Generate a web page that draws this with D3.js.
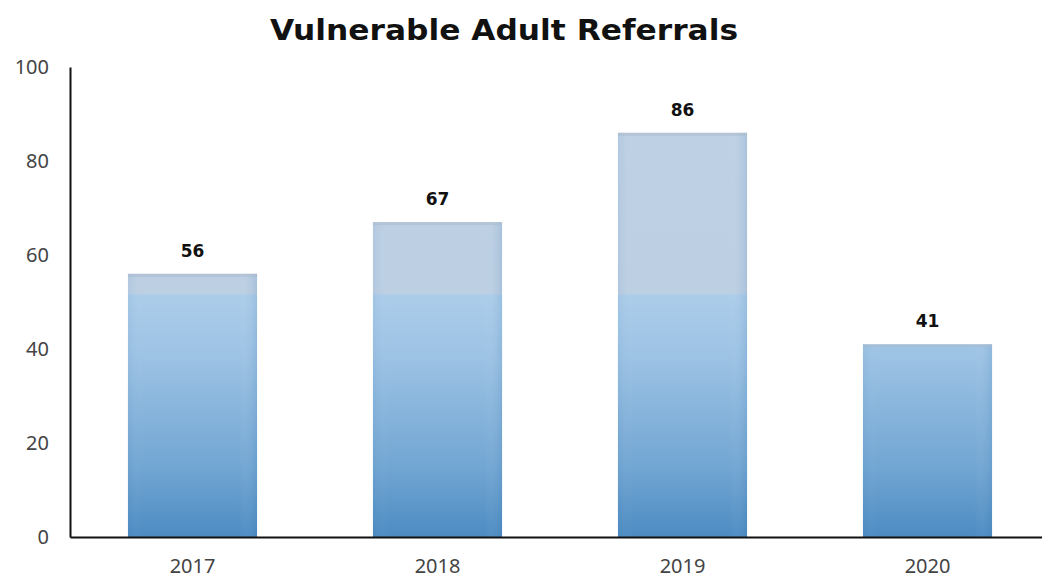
<!DOCTYPE html>
<html>
<head>
<meta charset="utf-8">
<script src="https://cdn.jsdelivr.net/npm/d3@7"></script>
<style>
  html, body { margin: 0; padding: 0; background: #ffffff; }
  svg { display: block; }
</style>
</head>
<body>
<script>
// Referrals received per year
const years = ["2017", "2018", "2019", "2020"];
const referrals = [56, 67, 86, 41];
const yTicks = [0, 20, 40, 60, 80, 100];
const chartTitle = "Vulnerable Adult Referrals";

const W = 1042, H = 584;
const margin = { left: 70, right: -8, top: 67, bottom: 47 };

const svg = d3.select("body").append("svg")
  .attr("width", W).attr("height", H);

const x = d3.scaleBand()
  .domain(years)
  .range([margin.left, W - margin.right])
  .paddingInner(0.473)
  .paddingOuter(0.2365);

const y = d3.scaleLinear()
  .domain([0, 100])
  .range([H - margin.bottom, margin.top]);

// Shared vertical fill: pale grey-blue in the upper half, deepening to mid blue at the base
const defs = svg.append("defs");
const grad = defs.append("linearGradient")
  .attr("id", "barFill")
  .attr("gradientUnits", "userSpaceOnUse")
  .attr("x1", 0).attr("y1", y(100)).attr("x2", 0).attr("y2", y(0));
const split = (y(100) - y(51.5)) / (y(100) - y(0));
[
  [0, "#bfd1e5"],
  [split - 0.002, "#bccfe3"],
  [split, "#accdea"],
  [0.62, "#9cc2e4"],
  [0.85, "#72a6d3"],
  [1, "#4c8bc2"]
].forEach(([o, c]) => grad.append("stop").attr("offset", o).attr("stop-color", c));

const edge = defs.append("linearGradient")
  .attr("id", "barEdge").attr("x1", 0).attr("y1", 0).attr("x2", 1).attr("y2", 0);
edge.append("stop").attr("offset", "0%").attr("stop-color", "#2f6fa8").attr("stop-opacity", 0.08);
edge.append("stop").attr("offset", "12%").attr("stop-color", "#ffffff").attr("stop-opacity", 0.0);
edge.append("stop").attr("offset", "86%").attr("stop-color", "#ffffff").attr("stop-opacity", 0.0);
edge.append("stop").attr("offset", "100%").attr("stop-color", "#2f6fa8").attr("stop-opacity", 0.15);

// Title
svg.append("text")
  .attr("x", 504).attr("y", 40)
  .attr("text-anchor", "middle")
  .attr("font-family", "'DejaVu Sans', sans-serif")
  .attr("font-weight", "bold")
  .attr("font-size", 28)
  .attr("fill", "#111")
  .attr("textLength", 468)
  .attr("lengthAdjust", "spacingAndGlyphs")
  .text(chartTitle);

// Bars
const bars = svg.append("g");
bars.selectAll("rect.bar")
  .data(years)
  .join("rect")
  .attr("class", "bar")
  .attr("x", d => x(d))
  .attr("y", (d, i) => y(referrals[i]))
  .attr("width", x.bandwidth())
  .attr("height", (d, i) => y(0) - y(referrals[i]))
  .attr("fill", "url(#barFill)");
bars.selectAll("rect.edge")
  .data(years)
  .join("rect")
  .attr("class", "edge")
  .attr("x", d => x(d))
  .attr("y", (d, i) => y(referrals[i]))
  .attr("width", x.bandwidth())
  .attr("height", (d, i) => y(0) - y(referrals[i]))
  .attr("fill", "url(#barEdge)");
// thin grey cap along each bar top
bars.selectAll("rect.cap")
  .data(years)
  .join("rect")
  .attr("class", "cap")
  .attr("x", d => x(d))
  .attr("y", (d, i) => y(referrals[i]))
  .attr("width", x.bandwidth())
  .attr("height", 3)
  .attr("fill", "#a9b9ca")
  .attr("opacity", 0.5);

// Value labels
svg.append("g").selectAll("text")
  .data(years)
  .join("text")
  .attr("x", d => x(d) + x.bandwidth() / 2)
  .attr("y", (d, i) => y(referrals[i]) - 17)
  .attr("text-anchor", "middle")
  .attr("font-family", "'DejaVu Sans', sans-serif")
  .attr("font-weight", "bold")
  .attr("font-size", 17)
  .attr("fill", "#111")
  .text((d, i) => referrals[i]);

// Y axis
const yAxis = svg.append("g")
  .attr("transform", `translate(${margin.left},0)`)
  .call(d3.axisLeft(y).tickValues(yTicks).tickSize(0).tickPadding(21));
yAxis.select(".domain").attr("stroke", "#111").attr("stroke-width", 2);
yAxis.selectAll("text")
  .attr("font-family", "'Noto Sans', sans-serif")
  .attr("font-size", 20)
  .attr("fill", "#444");

// X axis
const xAxis = svg.append("g")
  .attr("transform", `translate(0,${y(0)})`)
  .call(d3.axisBottom(x).tickSize(0).tickPadding(22));
xAxis.select(".domain").attr("stroke", "#111").attr("stroke-width", 2);
xAxis.selectAll("text")
  .attr("font-family", "'Noto Sans', sans-serif")
  .attr("font-size", 20)
  .attr("fill", "#444");
</script>
</body>
</html>
